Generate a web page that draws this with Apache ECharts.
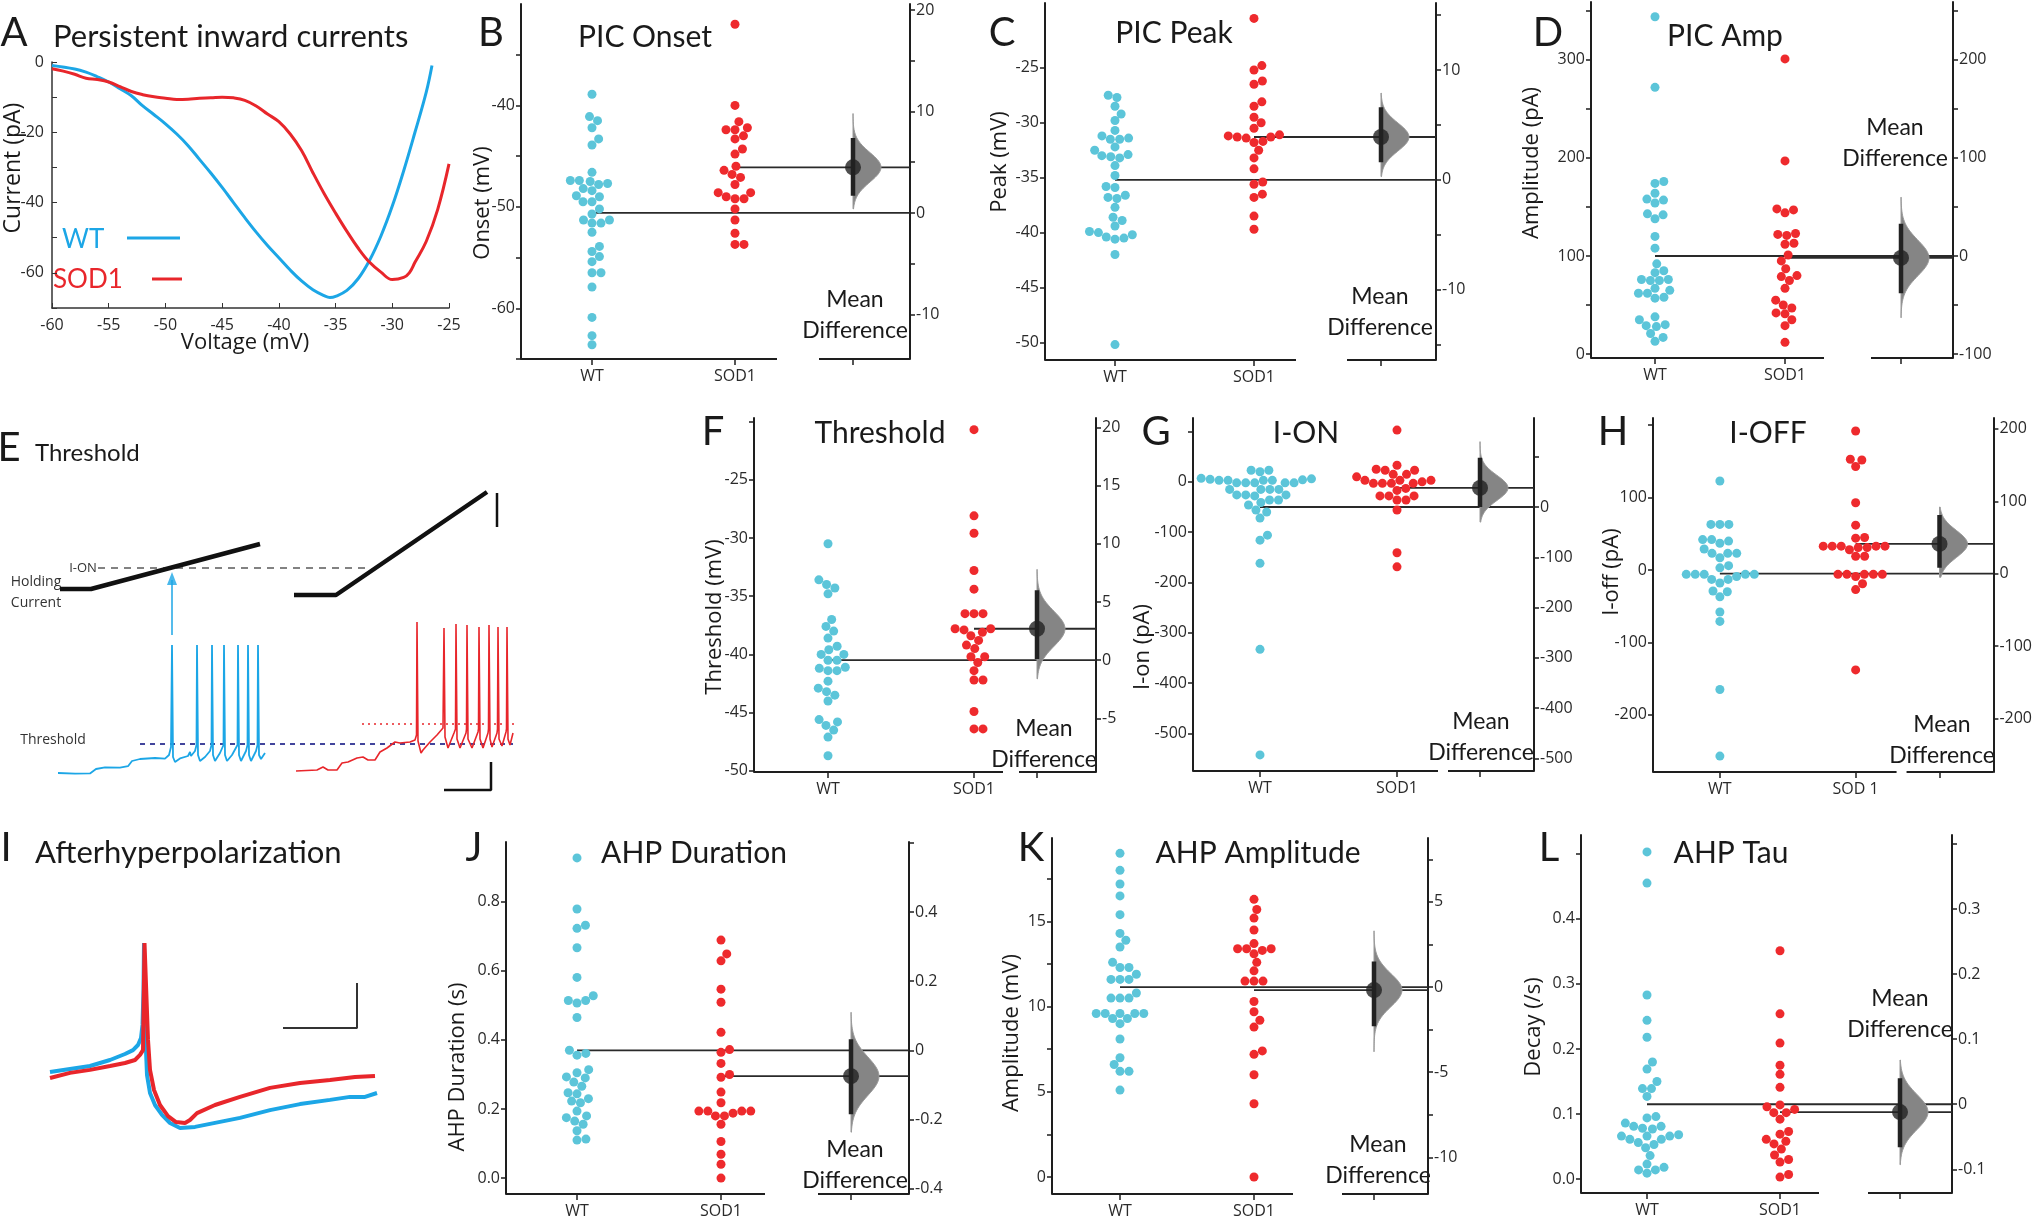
<!DOCTYPE html>
<html lang="en">
<head>
<meta charset="UTF-8">
<title>PIC and AHP properties</title>
<script src="https://cdn.jsdelivr.net/npm/echarts@6/dist/echarts.min.js"></script>
<style>html,body{margin:0;padding:0;background:#fff}</style>
</head>
<body>
<div id="box" style="width:2035px;height:1219px;"></div>
<script>
// colours
var WT_DOT = '#5cc5d9', SOD_DOT = '#ee2a2d';
var WT_LINE = '#1ca6e6', SOD_LINE = '#e8262b';
var INK = '#1e1e1e';
var LABEL = '#2a2a2a';

// ---- A: PIC I-V curves (mV, pA)
var picWT = [[-60,-1.0],[-58,-2.0],[-57,-2.9],[-56,-4.2],[-55,-5.7],[-54,-7.6],[-53,-9.6],[-52,-12.5],[-51,-15],[-50,-17.6],[-49,-20.5],[-48,-23.8],[-47,-27.7],[-46,-31.6],[-45,-35.7],[-44,-40],[-43,-44.3],[-42,-48.4],[-41,-52.2],[-40,-55.7],[-39,-59.2],[-38,-62.3],[-37,-64.8],[-36,-66.5],[-35.5,-67],[-35,-66.7],[-34,-65],[-33,-61.6],[-32,-56.4],[-31,-49.5],[-30,-41],[-29,-31],[-28,-20],[-27,-8.5],[-26.5,-1]];
var picSOD = [[-60,-1.9],[-59,-2.6],[-58,-3.5],[-57,-4.6],[-56,-5.0],[-55,-5.7],[-54,-7.0],[-53,-8.4],[-52,-9.3],[-51,-9.9],[-50,-10.3],[-49,-10.7],[-48,-10.6],[-47,-10.3],[-46,-10.2],[-45,-10.0],[-44,-10.2],[-43,-10.9],[-42,-12.5],[-41,-14.8],[-40,-17.0],[-39,-20.5],[-38,-25.2],[-37,-31.5],[-36,-37.5],[-35,-43],[-34,-48.2],[-33,-53],[-32,-57],[-31,-59.8],[-30,-61.9],[-29,-61.3],[-28.5,-60],[-28,-57],[-27,-51],[-26,-42],[-25,-29]];

// ---- E: ramp protocol (ms, pA) and voltage traces (ms, mV)
var rampWT = [[60,42],[91,42],[260,132]];
var rampSOD = [[294,30],[336,30],[487,236]];
var ionLevel = 84;
var eWT = [[58,-66],[75,-66.3],[90,-66.2],[96,-64],[105,-63.2],[120,-63.3],[128,-62.6],[132,-60],[140,-59],[155,-58.5],[165,-58.8],[169,-57],[171,-53],[172,-2],[173,-58],[175,-60.5],[180,-58.7],[188,-57.5],[190,-55.5],[191,-57.5],[195,-55],[196.5,-52],[197,-2],[198,-57],[200,-60],[205,-58],[210,-55],[211.5,-52],[212,-2],[213,-57],[215,-60],[220,-56],[223.5,-52],[224,-2],[225,-57],[227,-60],[232,-57],[237.5,-52],[238,-2],[239,-57],[241,-60],[246,-55],[247.5,-52],[248,-2],[249,-57],[251,-60],[256,-55],[257.5,-52],[258,-2],[259,-57],[261,-59],[265,-56]];
var eSOD = [[296,-65],[317,-64.5],[323,-63],[328,-64.5],[337,-64.5],[342,-61],[348,-60.5],[357,-58.5],[363,-58],[368,-59.5],[375,-59.5],[380,-55.5],[387,-53.5],[395,-50.5],[400,-51],[410,-50.5],[415,-49.5],[416.5,-47],[417,9.5],[418,-50],[421,-56],[423,-54.5],[430,-50.5],[437,-47],[443,-43.5],[444,6.5],[445,-48],[448,-53.5],[454,-46],[455.5,-44],[456,8.5],[457,-49],[460,-53.5],[466,-46],[466.5,-44],[467,8],[468,-49],[472,-53.5],[478,-45.5],[478.5,-44],[479,7],[480,-49],[483,-53.5],[488,-46],[488.5,-44],[489,8],[490,-49],[492,-53],[497,-46],[497.5,-44],[498,7],[499,-49],[502,-52.5],[506,-45.5],[506.5,-44],[507,7],[508,-49],[510,-52],[513,-46]];
var threshWTLevel = -51.5, threshSODLevel = -41.5;

// ---- I: AHP traces (ms, mV)
var ahpWTTrace = [[50,-60],[70,-59],[90,-58],[110,-56],[125,-54],[133,-52.7],[138,-51],[141,-48.7],[142.5,-44.3],[143.5,-32.7],[144,-17],[145,-36],[146,-52.7],[147,-61],[150,-67],[155,-71],[162,-74.3],[170,-77],[180,-78.7],[195,-78.3],[210,-77.3],[240,-75.3],[270,-72.7],[300,-70.7],[330,-69.3],[350,-68.3],[365,-68.3],[377,-67]];
var ahpSODTrace = [[50,-62],[70,-60.3],[90,-59.3],[110,-58],[125,-57],[135,-56],[140,-54.3],[143,-52.7],[144.5,-17],[146.5,-17],[148,-49.3],[150,-59.3],[154,-66],[160,-71],[168,-74.7],[176,-76.7],[185,-77],[190,-76],[197,-73.7],[215,-71],[240,-68.3],[270,-65.3],[300,-63.7],[330,-62.7],[355,-61.7],[375,-61.3]];

// ---- group values
var onsetWT = [-38.9,-41.1,-41.5,-42.2,-43.3,-43.9,-46.6,-47.4,-47.4,-47.5,-47.7,-47.8,-48.2,-48.4,-48.9,-49.0,-49.5,-49.5,-50.2,-50.7,-51.3,-51.3,-51.6,-51.6,-52.5,-53.9,-54.4,-54.9,-55.4,-56.5,-56.5,-57.9,-60.9,-62.7,-63.6];
var onsetSOD = [-32.0,-40.0,-41.6,-42.2,-42.4,-42.4,-43.0,-43.3,-44.3,-44.8,-46.0,-46.4,-46.8,-47.1,-47.8,-48.6,-48.6,-49.0,-49.2,-49.2,-50.2,-51.3,-52.6,-53.7,-53.7];
var peakWT = [-27.5,-27.7,-28.5,-29.2,-29.8,-30.7,-31.2,-31.4,-31.5,-31.5,-32.2,-32.5,-32.9,-33.0,-33.1,-33.2,-33.9,-34.8,-35.8,-35.9,-36.6,-36.8,-36.9,-37.7,-38.6,-38.9,-39.4,-39.9,-40.0,-40.2,-40.4,-40.5,-40.6,-42.0,-50.2];
var peakSOD = [-20.5,-24.8,-25.2,-26.2,-26.5,-28.1,-28.5,-29.5,-30.0,-30.5,-31.1,-31.2,-31.3,-31.3,-31.4,-31.7,-31.8,-32.5,-33.2,-34.2,-35.4,-35.6,-36.5,-36.8,-38.5,-39.7];
var ampWT = [344,272,176,174,164,158,157,154,143,142,138,120,108,92,85,83,76,76,75,75,67,65,62,62,58,57,38,35,30,29,28,21,17,13];
var ampSOD = [301,197,148,147,144,123,122,121,113,112,101,95,87,80,79,75,67,55,50,47,42,41,35,29,12];
var threshWT = [-30.5,-33.6,-34.0,-34.3,-34.8,-37.0,-37.6,-38.0,-38.6,-39.3,-39.6,-40.0,-40.0,-40.5,-40.5,-41.1,-41.2,-41.4,-41.4,-42.3,-42.9,-43.2,-43.5,-44.0,-45.6,-45.8,-46.1,-46.5,-47.1,-48.7];
var threshSOD = [-20.7,-28.1,-29.6,-32.8,-34.4,-36.5,-36.5,-36.5,-37.8,-37.8,-37.9,-38.1,-38.4,-38.8,-39.2,-39.5,-40.2,-40.2,-40.7,-41.4,-42.2,-42.2,-44.9,-46.4,-46.4];
var ionWT = [23,20,23,7,6,5,3,3,3,4,3,-2,-2,-2,-2,-2,-15,-15,-15,-15,-26,-26,-26,-28,-36,-36,-41,-46,-56,-60,-72,-106,-116,-162,-333,-543];
var ionSOD = [103,33,25,23,23,15,15,10,3,3,3,0,-3,-3,-3,-3,-13,-17,-28,-28,-28,-36,-36,-56,-141,-169];
var ioffWT = [123,63,63,63,42,42,40,37,29,23,23,23,17,6,3,-6,-6,-6,-6,-6,-9,-13,-13,-18,-29,-30,-37,-58,-71,-165,-257];
var ioffSOD = [192,153,152,143,93,62,45,44,33,33,33,33,33,31,31,28,19,19,-6,-6,-6,-6,-6,-9,-19,-27,-138];
var durWT = [0.927,0.779,0.732,0.723,0.667,0.581,0.528,0.514,0.514,0.507,0.465,0.370,0.361,0.356,0.314,0.305,0.293,0.290,0.278,0.266,0.247,0.244,0.230,0.223,0.218,0.194,0.180,0.175,0.165,0.156,0.137,0.113,0.110];
var durSOD = [0.689,0.649,0.629,0.547,0.509,0.422,0.372,0.364,0.332,0.300,0.292,0.249,0.218,0.194,0.194,0.194,0.194,0.188,0.180,0.180,0.156,0.106,0.069,0.040,0.000];
var ahpAmpWT = [19.0,18.0,17.2,16.5,15.4,14.3,13.9,13.5,12.6,12.3,12.3,11.9,11.6,11.6,11.6,10.8,10.5,10.5,10.5,9.6,9.6,9.6,9.6,9.6,9.3,9.3,9.0,8.1,7.0,6.6,6.2,6.2,5.1];
var ahpAmpSOD = [16.3,15.7,15.2,14.5,13.7,13.4,13.4,13.4,13.3,13.1,12.6,12.1,11.5,11.5,11.5,10.3,9.7,9.2,8.8,7.4,7.2,6.0,4.3,0.0];
var tauWT = [0.503,0.455,0.283,0.244,0.218,0.180,0.169,0.150,0.139,0.139,0.127,0.096,0.094,0.086,0.081,0.081,0.078,0.077,0.068,0.066,0.066,0.066,0.061,0.061,0.056,0.053,0.048,0.036,0.023,0.018,0.014,0.014,0.009];
var tauSOD = [0.351,0.254,0.209,0.175,0.161,0.141,0.114,0.111,0.107,0.102,0.102,0.092,0.073,0.069,0.061,0.058,0.054,0.046,0.037,0.030,0.026,0.007,0.003];

// group means [WT, SOD1], 95% CI and bootstrap range of the mean difference
var onsetMeans = [-50.6,-46.1], onsetCI = [1.7,7.4], onsetTail = [0.4,9.8];
var peakMeans = [-35.2,-31.3], peakCI = [1.6,6.6], peakTail = [0.3,7.9];
var ampMeans = [100,98], ampCI = [-38,33], ampTail = [-63,60];
var threshMeans = [-40.5,-37.8], threshCI = [0.1,6.0], threshTail = [-1.6,7.8];
var ionMeans = [-50,-12], ionCI = [0,98], ionTail = [-30,130];
var ioffMeans = [-5,36], ioffCI = [8,81], ioffTail = [-5,92];
var durMeans = [0.37,0.295], durCI = [-0.185,0.032], durTail = [-0.237,0.11];
var ahpAmpMeans = [11.15,10.97], ahpAmpCI = [-2.3,1.5], ahpAmpTail = [-3.8,3.3];
var tauMeans = [0.115,0.103], tauCI = [-0.066,0.04], tauTail = [-0.093,0.068];

// layout of the estimation panels (pixels) and axis settings
var panels = [
  {wt:onsetWT, sod:onsetSOD, means:onsetMeans, ci:onsetCI, tail:onsetTail, letter:'B', title:'PIC Onset', yName:'Onset (mV)',
   box:[521,4,910,359], xs:[592,735,853], seg:[777,819], yRange:[-65,-30], lTicks:[-65,-35,5], lLabels:[-60,-40,10], rTicks:[-10,20,5], rLabels:[-10,20,10], dec:0,
   letterAt:[491,33], titleAt:[645,37], yNameAt:[483,203], mdAt:[855,300]},
  {wt:peakWT, sod:peakSOD, means:peakMeans, ci:peakCI, tail:peakTail, letter:'C', title:'PIC Peak', yName:'Peak (mV)',
   box:[1045,3,1436,360], xs:[1115,1254,1381], seg:[1296,1347], yRange:[-51.6,-19.1], lTicks:[-50,-25,5], lLabels:[-50,-25,5], rTicks:[-15,15,5], rLabels:[-10,10,10], dec:0,
   letterAt:[1002,33], titleAt:[1174,33], yNameAt:[1000,162], mdAt:[1380,297]},
  {wt:ampWT, sod:ampSOD, means:ampMeans, ci:ampCI, tail:ampTail, letter:'D', title:'PIC Amp', yName:'Amplitude (pA)',
   box:[1591,2,1953,358], xs:[1655,1785,1901], seg:[1824,1871], yRange:[-4,359], lTicks:[0,350,50], lLabels:[0,300,100], rTicks:[-100,250,50], rLabels:[-100,200,100], dec:0,
   letterAt:[1548,33], titleAt:[1725,36], yNameAt:[1532,163], mdAt:[1895,128]},
  {wt:threshWT, sod:threshSOD, means:threshMeans, ci:threshCI, tail:threshTail, letter:'F', title:'Threshold', yName:'Threshold (mV)',
   box:[754,418,1096,772], xs:[828,974,1037], seg:[1003,1019], yRange:[-50.1,-19.7], lTicks:[-50,-20,5], lLabels:[-50,-25,5], rTicks:[-5,20,5], rLabels:[-5,20,5], dec:0,
   letterAt:[713,432], titleAt:[880,433], yNameAt:[715,617], mdAt:[1044,729]},
  {wt:ionWT, sod:ionSOD, means:ionMeans, ci:ionCI, tail:ionTail, letter:'G', title:'I-ON', yName:'I-on (pA)',
   box:[1193,418,1534,771], xs:[1260,1397,1480], seg:[1438,1448], yRange:[-575,127], lTicks:[-500,100,100], lLabels:[-500,0,100], rTicks:[-500,100,100], rLabels:[-500,0,100], dec:0,
   letterAt:[1156,432], titleAt:[1306,433], yNameAt:[1143,647], mdAt:[1481,722]},
  {wt:ioffWT, sod:ioffSOD, means:ioffMeans, ci:ioffCI, tail:ioffTail, letter:'H', title:'I-OFF', yName:'I-off (pA)', sodName:'SOD 1',
   box:[1653,418,1994,772], xs:[1720,1856,1940], seg:[1897,1907], yRange:[-279,210], lTicks:[-200,200,100], lLabels:[-200,100,100], rTicks:[-200,200,100], rLabels:[-200,200,100], dec:0,
   letterAt:[1613,432], titleAt:[1768,433], yNameAt:[1612,572], mdAt:[1942,725]},
  {wt:durWT, sod:durSOD, means:durMeans, ci:durCI, tail:durTail, letter:'J', title:'AHP Duration', yName:'AHP Duration (s)',
   box:[506,842,909,1195], xs:[577,721,851], seg:[765,818], yRange:[-0.046,0.973], lTicks:[0,0.8,0.2], lLabels:[0,0.8,0.2], rTicks:[-0.4,0.6,0.2], rLabels:[-0.4,0.4,0.2], dec:1,
   letterAt:[474,848], titleAt:[694,853], yNameAt:[458,1067], mdAt:[855,1150]},
  {wt:ahpAmpWT, sod:ahpAmpSOD, means:ahpAmpMeans, ci:ahpAmpCI, tail:ahpAmpTail, letter:'K', title:'AHP Amplitude', yName:'Amplitude (mV)',
   box:[1052,838,1428,1196], xs:[1120,1254,1374], seg:[1293,1342], yRange:[-1.0,19.9], lTicks:[0,17.5,2.5], lLabels:[0,15,5], rTicks:[-10,7.5,2.5], rLabels:[-10,5,5], dec:0,
   letterAt:[1031,848], titleAt:[1258,853], yNameAt:[1012,1033], mdAt:[1378,1145]},
  {wt:tauWT, sod:tauSOD, means:tauMeans, ci:tauCI, tail:tauTail, letter:'L', title:'AHP Tau', yName:'Decay (/s)',
   box:[1581,835,1952,1193], xs:[1647,1780,1900], seg:[1819,1868], yRange:[-0.0215,0.529], lTicks:[0,0.5,0.1], lLabels:[0,0.4,0.1], rTicks:[-0.1,0.4,0.1], rLabels:[-0.1,0.3,0.1], dec:1,
   letterAt:[1549,848], titleAt:[1731,853], yNameAt:[1534,1027], mdAt:[1900,999]}
];

var DOT = 9;
var VIOLIN_W = 28;

function seq(a, b, s) {
  var out = [];
  for (var v = a; v <= b + s * 1e-6; v += s) out.push(Math.round(v * 1e6) / 1e6);
  return out;
}

// beeswarm offsets in pixels (seaborn-like placement)
function swarm(vals, pxPerUnit, d) {
  var order = vals.map(function (v, i) { return {y: v * pxPerUnit, i: i}; })
    .sort(function (a, b) { return a.y - b.y; });
  var placed = [], off = [];
  order.forEach(function (p) {
    var near = placed.filter(function (q) { return Math.abs(q.y - p.y) < d; });
    var cands = [0];
    near.forEach(function (q) {
      var dx = Math.sqrt(d * d - (q.y - p.y) * (q.y - p.y));
      cands.push(q.x + dx, q.x - dx);
    });
    cands.sort(function (a, b) { return Math.abs(a) - Math.abs(b); });
    var x = 0;
    for (var k = 0; k < cands.length; k++) {
      var c = cands[k];
      var ok = near.every(function (q) { return (q.x - c) * (q.x - c) + (q.y - p.y) * (q.y - p.y) >= d * d - 0.01; });
      if (ok) { x = c; break; }
    }
    placed.push({x: x, y: p.y});
    off[p.i] = x;
  });
  return off;
}

function violin(params, api) {
  var x = api.value(0), mu = api.value(1), lo = api.value(2), hi = api.value(3), t0 = api.value(4), t1 = api.value(5);
  var sd = (hi - lo) / 3.92;
  var pts = [];
  for (var k = 0; k <= 60; k++) {
    var v = t0 + (t1 - t0) * k / 60;
    var c = api.coord([x, v]);
    var z = (v - mu) / sd;
    pts.push([c[0] + VIOLIN_W * Math.exp(-0.5 * z * z), c[1]]);
  }
  pts.push(api.coord([x, t1]));
  pts.push(api.coord([x, t0]));
  return {type: 'polygon', shape: {points: pts}, style: {fill: '#858585', stroke: '#9a9a9a', lineWidth: 1}};
}

var grids = [], xAxes = [], yAxes = [], series = [], graphics = [];

function seg(gi, yi, data, color, width, extra) {
  return Object.assign({type: 'line', xAxisIndex: gi, yAxisIndex: yi, data: data, symbol: 'none', silent: true, clip: false,
    lineStyle: {color: color, width: width}, z: 2}, extra || {});
}
function txt(x, y, text, size, opts) {
  opts = opts || {};
  graphics.push({type: 'text', x: x, y: y, rotation: opts.rot || 0, silent: true,
    style: {text: text, fontSize: size, fontFamily: opts.font || 'Lato', fill: opts.color || '#1a1a1a',
      align: opts.align || 'center', verticalAlign: 'middle'}});
}
function hiddenAxis(gi, min, max) {
  return {gridIndex: gi, type: 'value', min: min, max: max, show: false};
}

// ---------- panel A
grids.push({left: 52, top: 62, width: 397, height: 246});
xAxes.push({gridIndex: 0, type: 'value', min: -60, max: -25, interval: 5,
  axisLine: {onZero: false, lineStyle: {color: '#333', width: 1.5}},
  axisTick: {inside: true, length: 5, lineStyle: {color: '#333'}},
  axisLabel: {color: LABEL, fontSize: 16, margin: 9}, splitLine: {show: false}});
yAxes.push({gridIndex: 0, type: 'value', min: -70, max: 0, interval: 10,
  axisLine: {show: true, onZero: false, lineStyle: {color: '#333', width: 1.5}},
  axisTick: {show: true, inside: true, length: 5, lineStyle: {color: '#333'}},
  axisLabel: {color: LABEL, fontSize: 16, margin: 8, formatter: function (v) { return v % 20 === 0 ? String(v) : ''; }},
  splitLine: {show: false}});
series.push({type: 'line', xAxisIndex: 0, yAxisIndex: 0, data: picWT, smooth: 0.4, symbol: 'none', lineStyle: {color: WT_LINE, width: 3}});
series.push({type: 'line', xAxisIndex: 0, yAxisIndex: 0, data: picSOD, smooth: 0.4, symbol: 'none', lineStyle: {color: SOD_LINE, width: 3}});
txt(14, 33, 'A', 40);
txt(53, 37, 'Persistent inward currents', 31, {align: 'left'});
txt(13, 168, 'Current (pA)', 23, {rot: Math.PI / 2, font: 'Open Sans'});
txt(245, 343, 'Voltage (mV)', 22, {font: 'Open Sans'});
txt(62, 240, 'WT', 26, {align: 'left', color: WT_LINE});
txt(53, 280, 'SOD1', 26, {align: 'left', color: SOD_LINE});
graphics.push({type: 'line', silent: true, shape: {x1: 127, y1: 238, x2: 180, y2: 238}, style: {stroke: WT_LINE, lineWidth: 3}});
graphics.push({type: 'line', silent: true, shape: {x1: 152, y1: 279, x2: 182, y2: 279}, style: {stroke: SOD_LINE, lineWidth: 3}});

// ---------- estimation panels B-D, F-H, J-L
panels.forEach(function (p) {
  var gi = grids.length;
  var L = p.box[0], T = p.box[1], R = p.box[2], B = p.box[3];
  grids.push({left: L, top: T, width: R - L, height: B - T});
  var u = p.xs[1] - p.xs[0];
  var toX = function (px) { return (px - p.xs[0]) / u; };
  var xMin = toX(L), xMax = toX(R), dX = toX(p.xs[2]);
  var m0 = p.means[0], m1 = p.means[1];
  var yMin = p.yRange[0], yMax = p.yRange[1];
  var sodName = p.sodName || 'SOD1';

  xAxes.push({gridIndex: gi, type: 'value', min: xMin, max: xMax,
    axisLine: {show: false, onZero: false}, splitLine: {show: false},
    axisTick: {show: true, customValues: [0, 1, dX], length: 6, lineStyle: {color: INK, width: 1.5}},
    axisLabel: {customValues: [0, 1], color: LABEL, fontSize: 16, margin: 9,
      formatter: function (v) { return v < 0.5 ? 'WT' : sodName; }}});

  var fmtL = function (v) { return p.dec ? v.toFixed(p.dec) : String(Math.round(v)); };
  var fmtR = function (v) { return Math.abs(v) < 1e-9 ? '0' : String(Math.round(v * 1000) / 1000); };
  function yAxis(pos, min, max, ticks, labels, fmt) {
    return {gridIndex: gi, type: 'value', position: pos, min: min, max: max, splitLine: {show: false},
      axisLine: {show: true, onZero: false, lineStyle: {color: INK, width: 2}},
      axisTick: {show: true, customValues: ticks, length: 5, lineStyle: {color: INK, width: 1.5}},
      axisLabel: {customValues: labels, formatter: fmt, color: LABEL, fontSize: 16, margin: 6}};
  }
  var yl = yAxes.length;
  yAxes.push(yAxis('left', yMin, yMax, seq.apply(null, p.lTicks), seq.apply(null, p.lLabels), fmtL));
  yAxes.push(yAxis('right', yMin - m0, yMax - m0, seq.apply(null, p.rTicks), seq.apply(null, p.rLabels), fmtR));

  var pxPerUnit = (B - T) / (yMax - yMin);
  var wOff = swarm(p.wt, pxPerUnit, DOT);
  var sOff = swarm(p.sod, pxPerUnit, DOT);

  // mean lines and broken x axis
  series.push(seg(gi, yl, [[0, m0], [xMax, m0]], '#2a2a2a', 1.8));
  series.push(seg(gi, yl, [[1, m1], [xMax, m1]], '#2a2a2a', 1.8));
  series.push(seg(gi, yl, [[xMin, yMin], [toX(p.seg[0]), yMin]], INK, 2));
  series.push(seg(gi, yl, [[toX(p.seg[1]), yMin], [xMax, yMin]], INK, 2));

  series.push({type: 'scatter', xAxisIndex: gi, yAxisIndex: yl, symbolSize: DOT, silent: true, z: 4,
    itemStyle: {color: WT_DOT, opacity: 1}, data: p.wt.map(function (v, i) { return [wOff[i] / u, v]; })});
  series.push({type: 'scatter', xAxisIndex: gi, yAxisIndex: yl, symbolSize: DOT, silent: true, z: 4,
    itemStyle: {color: SOD_DOT, opacity: 1}, data: p.sod.map(function (v, i) { return [1 + sOff[i] / u, v]; })});

  // mean difference: bootstrap distribution, CI and point estimate on the right axis
  series.push({type: 'custom', xAxisIndex: gi, yAxisIndex: yl + 1, silent: true, z: 3, clip: false,
    renderItem: violin, data: [[dX, m1 - m0, p.ci[0], p.ci[1], p.tail[0], p.tail[1]]]});
  series.push(seg(gi, yl + 1, [[dX, p.ci[0]], [dX, p.ci[1]]], '#222', 4.5, {z: 5}));
  series.push({type: 'scatter', xAxisIndex: gi, yAxisIndex: yl + 1, symbolSize: 16, silent: true, z: 6,
    itemStyle: {color: '#222'}, data: [[dX, m1 - m0]]});

  txt(p.letterAt[0], p.letterAt[1], p.letter, 40);
  txt(p.titleAt[0], p.titleAt[1], p.title, 30);
  txt(p.yNameAt[0], p.yNameAt[1], p.yName, 22, {rot: Math.PI / 2, font: 'Open Sans'});
  txt(p.mdAt[0], p.mdAt[1], 'Mean', 23);
  txt(p.mdAt[0], p.mdAt[1] + 31, 'Difference', 23);
});

// ---------- panel E (schematic traces)
var ge = grids.length;
grids.push({left: 0, top: 470, width: 520, height: 330});
xAxes.push(hiddenAxis(ge, 0, 520));
var yCur = yAxes.length;
yAxes.push(hiddenAxis(ge, -380, 280));
var yVm = yAxes.length;
yAxes.push(hiddenAxis(ge, -79.5, 85.5));
series.push(seg(ge, yCur, [[98, ionLevel], [367, ionLevel]], '#5a5a5a', 1.6, {lineStyle: {color: '#5a5a5a', width: 1.6, type: [7, 6]}}));
series.push(seg(ge, yCur, rampWT, '#111', 4.5, {z: 3}));
series.push(seg(ge, yCur, rampSOD, '#111', 4.5, {z: 3}));
series.push(seg(ge, yCur, [[497, 234], [497, 166]], '#111', 2.5));
series.push(seg(ge, yCur, [[172, -50], [172, 60]], WT_LINE, 1.5));
series.push({type: 'scatter', xAxisIndex: ge, yAxisIndex: yCur, symbol: 'triangle', symbolSize: [10, 13], silent: true,
  itemStyle: {color: WT_LINE}, data: [[172, 63]]});
series.push(seg(ge, yVm, [[140, threshWTLevel], [513, threshWTLevel]], '#2e3192', 1.8, {lineStyle: {color: '#2e3192', width: 1.8, type: [5, 5]}}));
series.push(seg(ge, yVm, [[362, threshSODLevel], [517, threshSODLevel]], SOD_LINE, 1.6, {lineStyle: {color: SOD_LINE, width: 1.6, type: [2, 4]}}));
series.push(seg(ge, yVm, eWT, WT_LINE, 1.8, {z: 4}));
series.push(seg(ge, yVm, eSOD, SOD_LINE, 1.6, {z: 4}));
series.push(seg(ge, yVm, [[444, -74.5], [491, -74.5], [491, -60.5]], '#111', 2.5));
txt(9, 448, 'E', 40);
txt(35, 453, 'Threshold', 24, {align: 'left'});
txt(83, 568, 'I-ON', 13, {font: 'Open Sans', color: '#333'});
txt(36, 582, 'Holding', 14, {font: 'Open Sans', color: '#333'});
txt(36, 603, 'Current', 14, {font: 'Open Sans', color: '#333'});
txt(53, 740, 'Threshold', 14, {font: 'Open Sans', color: '#333'});

// ---------- panel I (AHP traces)
var gI = grids.length;
grids.push({left: 0, top: 930, width: 400, height: 210});
xAxes.push(hiddenAxis(gI, 0, 400));
var yI = yAxes.length;
yAxes.push(hiddenAxis(gI, -82.67, -12.67));
series.push(seg(gI, yI, ahpWTTrace, WT_LINE, 4, {z: 3}));
series.push(seg(gI, yI, ahpSODTrace, SOD_LINE, 4, {z: 4}));
series.push(seg(gI, yI, [[283, -45.3], [357, -45.3], [357, -30.3]], '#333', 2));
txt(6, 848, 'I', 40);
txt(35, 853, 'Afterhyperpolarization', 31, {align: 'left'});

var chart = echarts.init(document.getElementById('box'));
chart.setOption({
  animation: false,
  backgroundColor: '#fff',
  textStyle: {fontFamily: 'Open Sans'},
  grid: grids,
  xAxis: xAxes,
  yAxis: yAxes,
  series: series,
  graphic: graphics
});
</script>
</body>
</html>
